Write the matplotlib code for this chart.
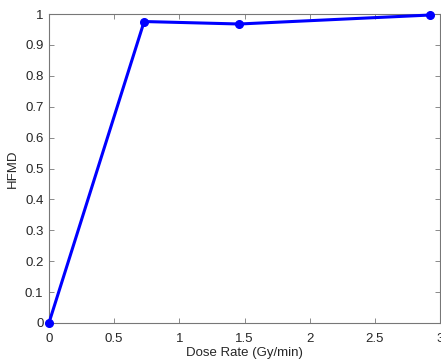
import matplotlib
matplotlib.use('Agg')
import matplotlib.pyplot as plt
import numpy as np

plt.rcParams['font.family'] = ['Liberation Sans', 'DejaVu Sans']

dose_rate = [0, 0.73, 1.46, 2.92]
hfmd = [0, 0.976, 0.968, 0.997]

fig = plt.figure(figsize=(4.41, 3.62), dpi=100)
ax = fig.add_axes([0.111, 0.108, 0.887, 0.853])
ax.plot(dose_rate, hfmd, color='#0000ff', linewidth=2.2, marker='o', markersize=5.5,
        clip_on=False, zorder=5)

ax.set_xlim(0, 3)
ax.set_ylim(0, 1)
ax.set_xticks(np.arange(0, 3.01, 0.5))
ax.set_xticklabels(['0', '0.5', '1', '1.5', '2', '2.5', '3'])
ax.set_yticks(np.arange(0, 1.01, 0.1))
ax.set_yticklabels(['0', '0.1', '0.2', '0.3', '0.4', '0.5', '0.6', '0.7', '0.8', '0.9', '1'])

axis_color = '#777777'
for s in ax.spines.values():
    s.set_color(axis_color)
    s.set_linewidth(0.8)
ax.tick_params(direction='in', top=True, right=True, length=3.5, width=0.6,
               color=axis_color, labelsize=9.5, labelcolor='#262626')
ax.tick_params(axis='x', pad=7)
ax.tick_params(axis='y', pad=4)
ax.set_xlabel('Dose Rate (Gy/min)', fontsize=9.5, color='#262626', labelpad=2)
ax.set_ylabel('HFMD', fontsize=9.5, color='#262626', labelpad=4)

fig.savefig('out.png', dpi=100)
